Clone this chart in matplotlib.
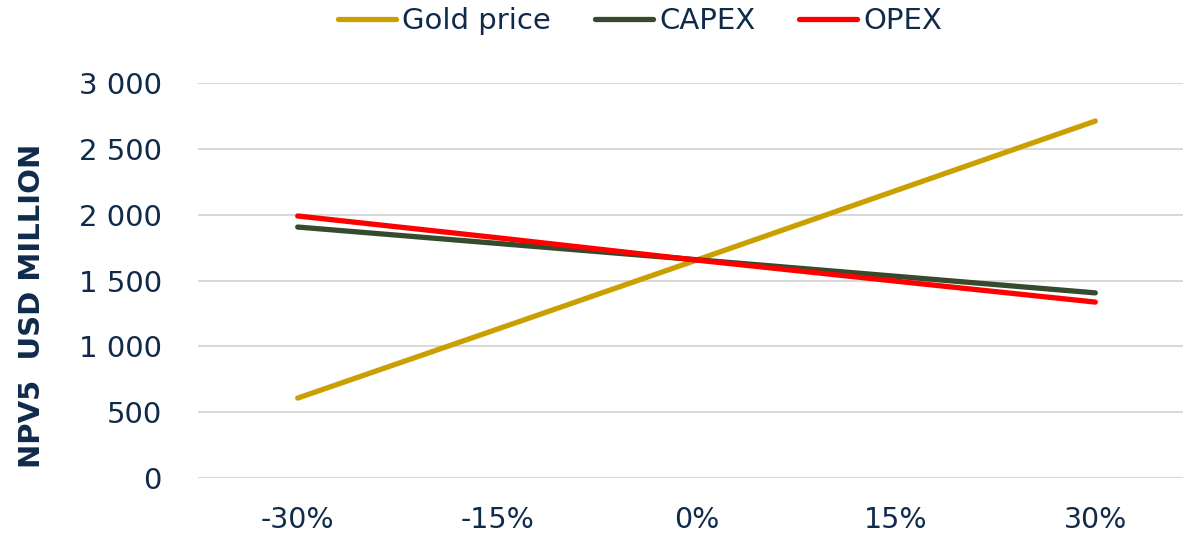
import matplotlib.pyplot as plt

categories = ['-30%', '-15%', '0%', '15%', '30%']
gold_price = [607, 1130, 1655, 2183, 2711]
capex = [1906, 1782, 1658, 1532, 1406]
opex = [1990, 1825, 1655, 1495, 1336]

navy = '#0f2a4a'
plt.rcParams['font.family'] = ['DejaVu Sans']

fig = plt.figure(figsize=(11.83, 5.36), dpi=100)
ax = fig.add_axes([198 / 1183, (536 - 478) / 536, 997 / 1183, 395 / 536])

x = range(len(categories))
ax.plot(x, gold_price, color='#c9a000', lw=3.8, label='Gold price', solid_capstyle='round')
ax.plot(x, capex, color='#364a2e', lw=3.8, label='CAPEX', solid_capstyle='round')
ax.plot(x, opex, color='#ff0000', lw=3.8, label='OPEX', solid_capstyle='round')

ax.set_xlim(-0.5, 4.5)
ax.set_ylim(0, 3000)
ax.set_yticks(range(0, 3001, 500))
ax.set_yticklabels([f'{v:,}'.replace(',', ' ') for v in range(0, 3001, 500)])
ax.set_xticks(list(x))
ax.set_xticklabels(categories)
ax.grid(axis='y', color='#d9d9d9', lw=1.5)
ax.set_axisbelow(True)
for s in ax.spines.values():
    s.set_visible(False)
ax.tick_params(length=0, colors=navy)
ax.tick_params(axis='y', pad=26, labelsize=21)
ax.tick_params(axis='x', pad=20, labelsize=20.5)

fig.text(0.027, 0.43, 'NPV5  USD MILLION', rotation=90, ha='center', va='center',
         fontsize=21, fontweight='bold', color=navy)

leg = fig.legend(loc='upper center', bbox_to_anchor=(0.541, 1.035), ncol=3, frameon=False,
                 fontsize=21, handlelength=2.0, handletextpad=0.2, columnspacing=1.5)
for t in leg.get_texts():
    t.set_color(navy)

fig.savefig('out.png', dpi=100)
